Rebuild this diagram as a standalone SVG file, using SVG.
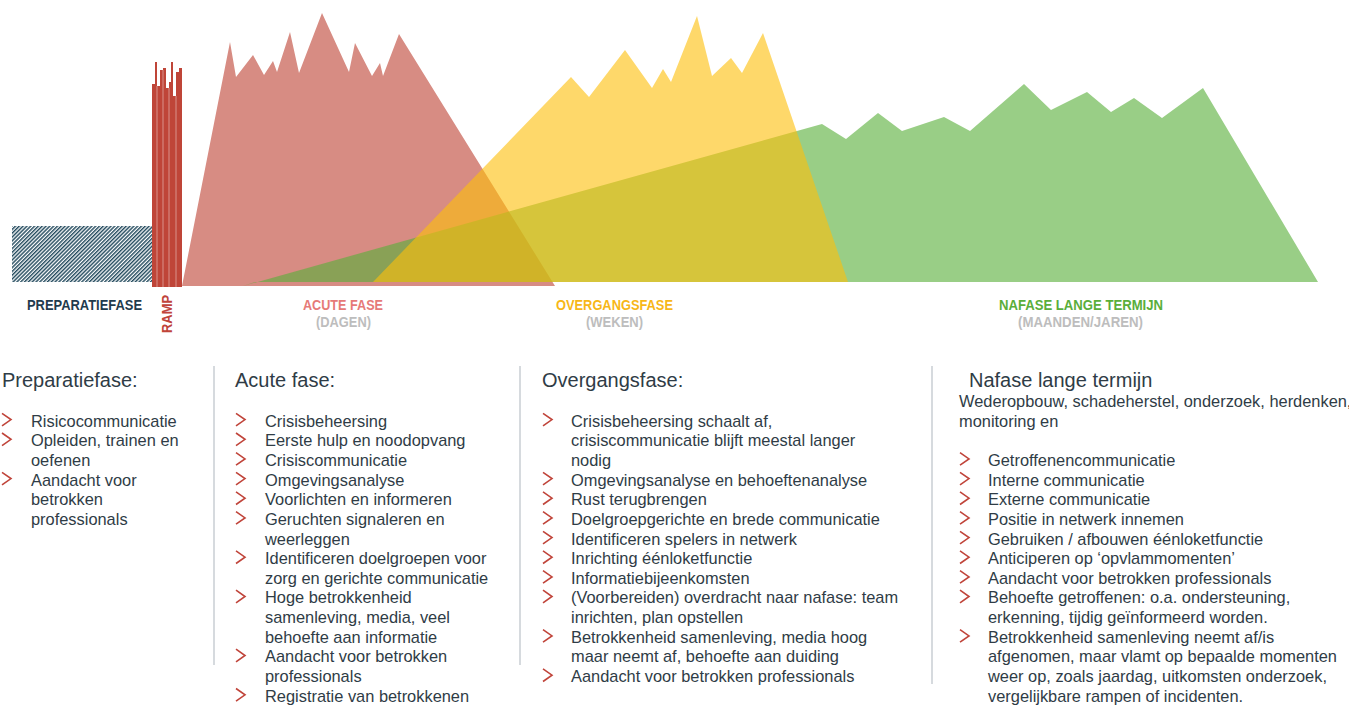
<svg xmlns="http://www.w3.org/2000/svg" xmlns:xlink="http://www.w3.org/1999/xlink" width="1349" height="706" viewBox="0 0 1349 706">
<style>
.lbl{font-family:"Liberation Sans",Arial,sans-serif;font-weight:bold;font-size:14px}
.sub{fill:#bdbdbd}
.h{font-family:"Liberation Sans",Arial,sans-serif;font-size:20px;fill:#2f3c46}
.t{font-family:"Liberation Sans",Arial,sans-serif;font-size:16.4px;fill:#2f3c46}
.chev{fill:none;stroke:#c0443a;stroke-width:1.6;stroke-linejoin:miter}
.sep{stroke:#c9ced3;stroke-width:1.5}
.bar{fill:#bf4538}
</style>
<defs>
<pattern id="hatch" patternUnits="userSpaceOnUse" width="2.7" height="10" patternTransform="rotate(45)">
<rect x="0" y="0" width="1.45" height="10" fill="#244b5e"/>
</pattern>
<path id="ch" class="chev" d="M0,0 L9,6.3 L0,12.6"/>
</defs>

<g id="chart">
<g id="preparatie-area">
<rect x="12" y="226" width="140" height="56" fill="url(#hatch)"/>
</g>
<g id="acute-area">
<polygon fill="#d78c83" points="182,286 230,42 236,77 253,55 264,75 273,61 277,72 290,32 299,73 322,13 349,72 355,43 372,76 380,63 383,76 399,34 555,286"/>
</g>
<g id="nafase-area">
<polygon fill="#59af39" fill-opacity="0.61" points="243,286 822,124 846,139 878,113 902,131 944,117 970,131 1024,84 1051,110 1087,92 1111,112 1134,98 1162,118 1203,88 1318,282 255,282"/>
</g>
<g id="overgang-area">
<polygon fill="#fdbf0b" fill-opacity="0.61" points="373,282 571,77 589,97 625,50 652,88 663,69 671,82 697,16 712,76 731,58 742,73 763,33 848,282"/>
</g>
<g id="ramp-bars">
<rect class="bar" x="152" y="84" width="3" height="203"/>
<rect class="bar" x="155" y="62" width="2" height="225"/>
<rect class="bar" x="157" y="86" width="3" height="201"/>
<rect class="bar" x="160" y="70" width="3" height="217"/>
<rect class="bar" x="163" y="68" width="3" height="219"/>
<rect class="bar" x="166" y="88" width="3" height="199"/>
<rect class="bar" x="169" y="82" width="2" height="205"/>
<rect class="bar" x="171" y="62" width="2" height="225"/>
<rect class="bar" x="173" y="96" width="3" height="191"/>
<rect class="bar" x="176" y="72" width="3" height="215"/>
<rect class="bar" x="179" y="68" width="3" height="219"/>
<g stroke="#ffffff" stroke-width="0.7" stroke-opacity="0.6">
<line x1="157" y1="86" x2="157" y2="287"/>
<line x1="163" y1="70" x2="163" y2="287"/>
<line x1="169" y1="88" x2="169" y2="287"/>
<line x1="176" y1="96" x2="176" y2="287"/>
</g>
</g>
<g id="chart-labels">
<text class="lbl" x="27" y="310" fill="#1f3b4d" textLength="115" lengthAdjust="spacingAndGlyphs">PREPARATIEFASE</text>
<text class="lbl" transform="translate(172,314) rotate(-90)" text-anchor="middle" fill="#c0443a" textLength="38" lengthAdjust="spacingAndGlyphs">RAMP</text>
<text class="lbl" x="303" y="310" fill="#e67a78" textLength="80" lengthAdjust="spacingAndGlyphs">ACUTE FASE</text>
<text class="lbl sub" x="316" y="326.5" textLength="55" lengthAdjust="spacingAndGlyphs">(DAGEN)</text>
<text class="lbl" x="556" y="310" fill="#f7b717" textLength="117" lengthAdjust="spacingAndGlyphs">OVERGANGSFASE</text>
<text class="lbl sub" x="586" y="326.5" textLength="57" lengthAdjust="spacingAndGlyphs">(WEKEN)</text>
<text class="lbl" x="999" y="310" fill="#5aae3a" textLength="164" lengthAdjust="spacingAndGlyphs">NAFASE LANGE TERMIJN</text>
<text class="lbl sub" x="1018" y="326.5" textLength="125" lengthAdjust="spacingAndGlyphs">(MAANDEN/JAREN)</text>
</g>
</g>

<g id="separators">
<line class="sep" x1="214" y1="366" x2="214" y2="665"/>
<line class="sep" x1="520" y1="366" x2="520" y2="665"/>
<line class="sep" x1="932" y1="366" x2="932" y2="684"/>
</g>

<g id="col-preparatie">
<text class="h" x="2" y="386.7">Preparatiefase:</text>
<use xlink:href="#ch" x="2" y="413.3"/>
<use xlink:href="#ch" x="2" y="433"/>
<use xlink:href="#ch" x="2" y="472.3"/>
<text class="t" x="31" y="426.5">Risicocommunicatie</text>
<text class="t" x="31" y="446.2">Opleiden, trainen en</text>
<text class="t" x="31" y="465.8">oefenen</text>
<text class="t" x="31" y="485.5">Aandacht voor</text>
<text class="t" x="31" y="505.1">betrokken</text>
<text class="t" x="31" y="524.8">professionals</text>
</g>

<g id="col-acute">
<text class="h" x="235" y="386.7">Acute fase:</text>
<use xlink:href="#ch" x="236" y="413.3"/>
<use xlink:href="#ch" x="236" y="433"/>
<use xlink:href="#ch" x="236" y="452.6"/>
<use xlink:href="#ch" x="236" y="472.3"/>
<use xlink:href="#ch" x="236" y="491.9"/>
<use xlink:href="#ch" x="236" y="511.6"/>
<use xlink:href="#ch" x="236" y="550.9"/>
<use xlink:href="#ch" x="236" y="590.2"/>
<use xlink:href="#ch" x="236" y="649.2"/>
<use xlink:href="#ch" x="236" y="688.5"/>
<text class="t" x="265" y="426.5">Crisisbeheersing</text>
<text class="t" x="265" y="446.2">Eerste hulp en noodopvang</text>
<text class="t" x="265" y="465.8">Crisiscommunicatie</text>
<text class="t" x="265" y="485.5">Omgevingsanalyse</text>
<text class="t" x="265" y="505.1">Voorlichten en informeren</text>
<text class="t" x="265" y="524.8">Geruchten signaleren en</text>
<text class="t" x="265" y="544.5">weerleggen</text>
<text class="t" x="265" y="564.1">Identificeren doelgroepen voor</text>
<text class="t" x="265" y="583.8">zorg en gerichte communicatie</text>
<text class="t" x="265" y="603.4">Hoge betrokkenheid</text>
<text class="t" x="265" y="623.1">samenleving, media, veel</text>
<text class="t" x="265" y="642.8">behoefte aan informatie</text>
<text class="t" x="265" y="662.4">Aandacht voor betrokken</text>
<text class="t" x="265" y="682.1">professionals</text>
<text class="t" x="265" y="701.7">Registratie van betrokkenen</text>
</g>

<g id="col-overgang">
<text class="h" x="542" y="386.7">Overgangsfase:</text>
<use xlink:href="#ch" x="543" y="413.3"/>
<use xlink:href="#ch" x="543" y="472.3"/>
<use xlink:href="#ch" x="543" y="491.9"/>
<use xlink:href="#ch" x="543" y="511.6"/>
<use xlink:href="#ch" x="543" y="531.3"/>
<use xlink:href="#ch" x="543" y="550.9"/>
<use xlink:href="#ch" x="543" y="570.6"/>
<use xlink:href="#ch" x="543" y="590.2"/>
<use xlink:href="#ch" x="543" y="629.6"/>
<use xlink:href="#ch" x="543" y="668.9"/>
<text class="t" x="571" y="426.5">Crisisbeheersing schaalt af,</text>
<text class="t" x="571" y="446.2">crisiscommunicatie blijft meestal langer</text>
<text class="t" x="571" y="465.8">nodig</text>
<text class="t" x="571" y="485.5">Omgevingsanalyse en behoeftenanalyse</text>
<text class="t" x="571" y="505.1">Rust terugbrengen</text>
<text class="t" x="571" y="524.8">Doelgroepgerichte en brede communicatie</text>
<text class="t" x="571" y="544.5">Identificeren spelers in netwerk</text>
<text class="t" x="571" y="564.1">Inrichting éénloketfunctie</text>
<text class="t" x="571" y="583.8">Informatiebijeenkomsten</text>
<text class="t" x="571" y="603.4">(Voorbereiden) overdracht naar nafase: team</text>
<text class="t" x="571" y="623.1">inrichten, plan opstellen</text>
<text class="t" x="571" y="642.8">Betrokkenheid samenleving, media hoog</text>
<text class="t" x="571" y="662.4">maar neemt af, behoefte aan duiding</text>
<text class="t" x="571" y="682.1">Aandacht voor betrokken professionals</text>
</g>

<g id="col-nafase">
<text class="h" x="969" y="386.7">Nafase lange termijn</text>
<text class="t" x="959" y="406.8">Wederopbouw, schadeherstel, onderzoek, herdenken,</text>
<text class="t" x="959" y="426.5">monitoring en</text>
<use xlink:href="#ch" x="960" y="452.6"/>
<use xlink:href="#ch" x="960" y="472.3"/>
<use xlink:href="#ch" x="960" y="491.9"/>
<use xlink:href="#ch" x="960" y="511.6"/>
<use xlink:href="#ch" x="960" y="531.3"/>
<use xlink:href="#ch" x="960" y="550.9"/>
<use xlink:href="#ch" x="960" y="570.6"/>
<use xlink:href="#ch" x="960" y="590.2"/>
<use xlink:href="#ch" x="960" y="629.6"/>
<text class="t" x="988" y="465.8">Getroffenencommunicatie</text>
<text class="t" x="988" y="485.5">Interne communicatie</text>
<text class="t" x="988" y="505.1">Externe communicatie</text>
<text class="t" x="988" y="524.8">Positie in netwerk innemen</text>
<text class="t" x="988" y="544.5">Gebruiken / afbouwen éénloketfunctie</text>
<text class="t" x="988" y="564.1">Anticiperen op ‘opvlammomenten’</text>
<text class="t" x="988" y="583.8">Aandacht voor betrokken professionals</text>
<text class="t" x="988" y="603.4">Behoefte getroffenen: o.a. ondersteuning,</text>
<text class="t" x="988" y="623.1">erkenning, tijdig geïnformeerd worden.</text>
<text class="t" x="988" y="642.8">Betrokkenheid samenleving neemt af/is</text>
<text class="t" x="988" y="662.4">afgenomen, maar vlamt op bepaalde momenten</text>
<text class="t" x="988" y="682.1">weer op, zoals jaardag, uitkomsten onderzoek,</text>
<text class="t" x="988" y="701.7">vergelijkbare rampen of incidenten.</text>
</g>
</svg>
